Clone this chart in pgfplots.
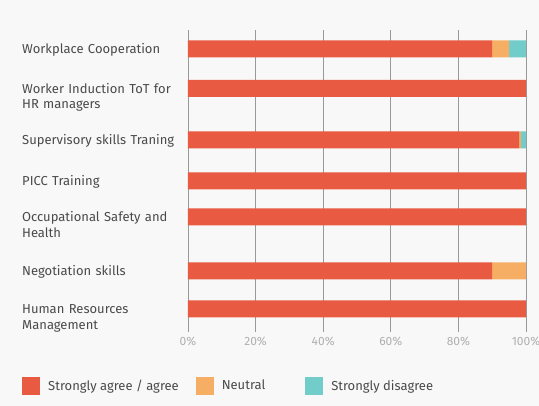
\documentclass[border=0pt]{standalone}
\usepackage{pgfplots}
\pgfplotsset{compat=1.18}
\usepackage{fontspec}
\setmainfont{Fira Sans}
\definecolor{bg}{HTML}{F8F8F8}
\definecolor{cred}{HTML}{E85A42}
\definecolor{corange}{HTML}{F5AE63}
\definecolor{cteal}{HTML}{72CCC9}
\definecolor{txt}{HTML}{4A4A4A}
\definecolor{tick}{HTML}{B0B0B0}
\begin{document}
\begin{tikzpicture}[x=1pt,y=1pt]
\fill[bg] (0,0) rectangle (539,406);
\useasboundingbox (0,0) rectangle (539,406);
\begin{axis}[
  at={(188pt,74pt)}, anchor=south west,
  scale only axis, width=338pt, height=302pt,
  xbar stacked, bar width=17pt,
  xmin=0, xmax=100, ymin=30, ymax=332, y dir=reverse,
  xtick={0,20,40,60,80,100},
  xticklabel={\pgfmathprintnumber{\tick}\%},
  /pgf/number format/assume math mode=true,
  xticklabel style={font=\fontsize{12}{13}\selectfont, text=tick, inner sep=2pt, yshift=-3pt},
  ytick={49,88.5,140,181,217,271,309},
  yticklabels={Workplace Cooperation,
    {Worker Induction ToT for\\HR managers},
    Supervisory skills Traning,
    PICC Training,
    {Occupational Safety and\\Health},
    Negotiation skills,
    {Human Resources\\Management}},
  yticklabel style={text width=165pt, align=left, anchor=base west, xshift=-166pt, yshift=-5pt,
    font=\fontsize{13}{15.5}\selectfont, text=txt, inner sep=0pt},
  major tick length=0pt,
  axis line style={draw=none},
  xmajorgrids, grid style={color=gray!80, line width=0.8pt},
  legend style={at={(axis description cs:-0.491,-0.178)}, anchor=west, draw=none, fill=none,
    legend columns=3, column sep=8pt, inner sep=0pt,
    font=\fontsize{13}{15}\selectfont, text=txt, nodes={inner sep=0pt}},
  legend image code/.code={\path[#1] (0pt,-9pt) rectangle (18pt,9pt);},
  legend cell align=left,
]
\addplot[fill=cred, draw=none] coordinates {(90,49) (100,88.5) (98,140) (100,181) (100,217) (90,271) (100,309)};
\addplot[fill=corange, draw=none] coordinates {(5,49) (0,88.5) (0.5,140) (0,181) (0,217) (10,271) (0,309)};
\addplot[fill=cteal, draw=none] coordinates {(5,49) (0,88.5) (1.5,140) (0,181) (0,217) (0,271) (0,309)};
\legend{Strongly agree / agree\rule{9pt}{0pt}, Neutral\rule{32pt}{0pt}, Strongly disagree}
\end{axis}
\end{tikzpicture}
\end{document}
